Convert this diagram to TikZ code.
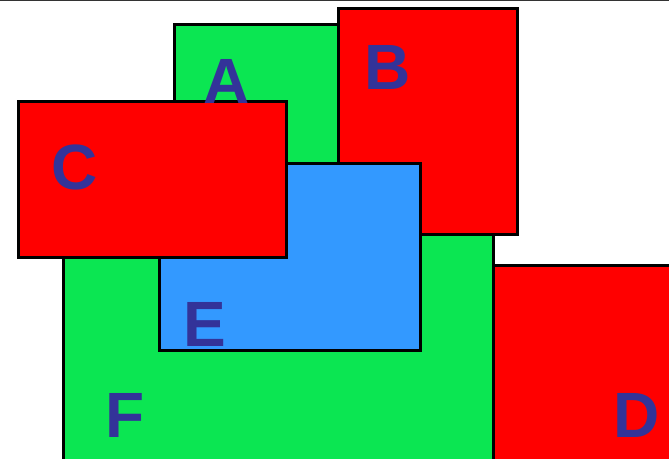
\documentclass[tikz,border=0pt]{standalone}
\usepackage{fontspec}
\setmainfont{Liberation Sans}
\definecolor{areagreen}{RGB}{11,230,82}
\definecolor{areared}{RGB}{255,0,0}
\definecolor{areablue}{RGB}{51,153,255}
\definecolor{tagblue}{RGB}{51,51,153}
\begin{document}
\begin{tikzpicture}[
  x=1pt, y=-1pt,
  region/.style={draw=black, line width=3pt, inner sep=0pt, outer sep=0pt, anchor=north west},
  tag/.style={text=tagblue, font=\fontsize{64}{64}\selectfont\bfseries, inner sep=0pt}
]
  \useasboundingbox (0,0) rectangle (669,458);
  \clip (0,0) rectangle (669,458);

  % Top frame line
  \coordinate (topL) at (0,0.5);
  \coordinate (topR) at (669,0.5);
  \draw[line width=1pt, black!80] (topL) -- (topR);

  % Green areas
  \node[region, fill=areagreen, minimum width=164pt, minimum height=176pt] at (174,24) (areaA) {};
  \node[region, fill=areagreen, minimum width=430pt, minimum height=270pt] at (63,200) (areaF) {};

  % Red area B
  \node[region, fill=areared, minimum width=179pt, minimum height=226pt] at (338,8) (areaB) {};

  % Blue area E
  \node[region, fill=areablue, minimum width=261pt, minimum height=187pt] at (159,163) (areaE) {};

  % Red areas C and D
  \node[region, fill=areared, minimum width=268pt, minimum height=156pt] at (18,101) (areaC) {};
  \node[region, fill=areared, minimum width=200pt, minimum height=210pt] at (493,265) (areaD) {};

  % Letters
  \node[tag] at (227,81) (tagA) {A};
  \node[tag] at (388,67) (tagB) {B};
  \node[tag] at (75,167) (tagC) {C};
  \node[tag] at (637,415) (tagD) {D};
  \node[tag] at (205,324) (tagE) {E};
  \node[tag] at (125,415) (tagF) {F};
\end{tikzpicture}
\end{document}
